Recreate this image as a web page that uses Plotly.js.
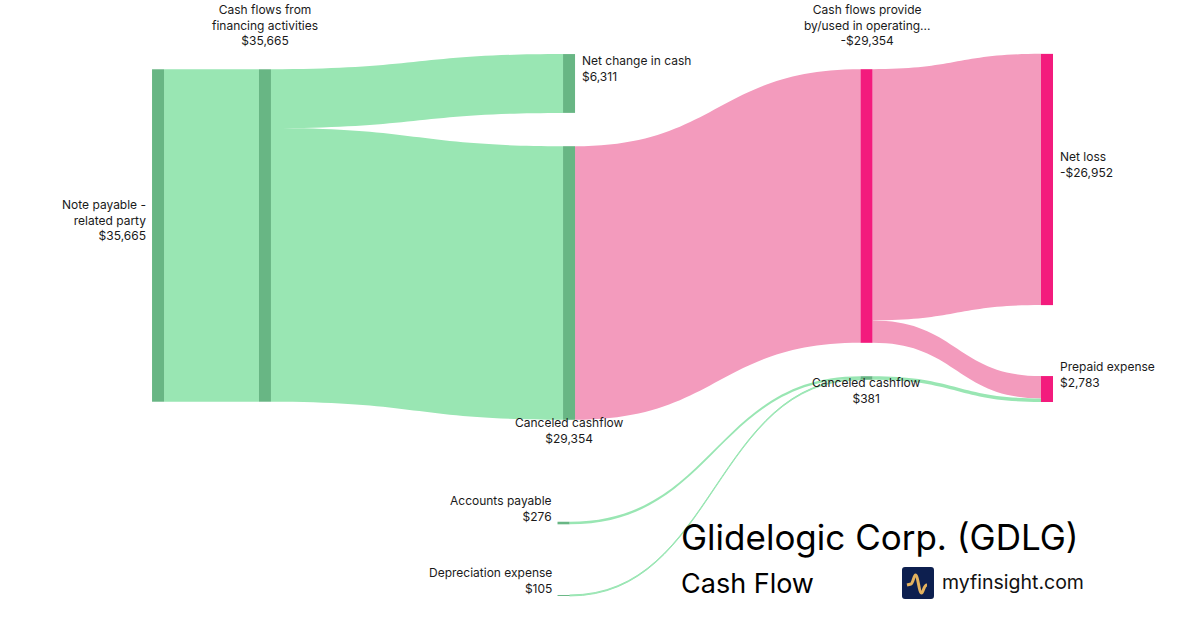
<!DOCTYPE html>
<html>
<head>
<meta charset="utf-8">
<script src="https://cdn.plot.ly/plotly-3.0.1.min.js"></script>
<style>html,body{margin:0;padding:0;background:#fff;}#chart{width:1200px;height:630px;}</style>
</head>
<body>
<div id="chart"></div>
<script>
// ---- data ----
const nodeNames = [
  "Note payable -<br>related party",
  "Cash flows from<br>financing activities",
  "Net change in cash",
  "Canceled cashflow",
  "Accounts payable",
  "Depreciation expense",
  "Cash flows provide<br>by/used in operating...",
  "Canceled cashflow",
  "Net loss",
  "Prepaid expense"
];
const nodeAmounts = [35665, 35665, 6311, 29354, 276, 105, -29354, 381, -26952, 2783];
const linkSource = [0, 1, 1, 3, 6, 6, 4, 5, 7];
const linkTarget = [1, 2, 3, 6, 8, 9, 7, 7, 9];
const linkValues = [35665, 6311, 29354, 29354, 26952, 2402, 276, 105, 381];

// ---- layout / style ----
const W = 1200, H = 630;
const nodeX = [0.1317, 0.2208, 0.4742, 0.4742, 0.4696, 0.4696, 0.7221, 0.7221, 0.8725, 0.8725];
const nodeY = [0.3738, 0.3738, 0.1325, 0.4492, 0.8302, 0.9452, 0.3270, 0.6000, 0.2849, 0.6175];
const labelSide = ["left", "top", "right", "bottom", "left", "left", "top", "bottom", "right", "right"];
const GREEN_NODE = "#68b684", PINK_NODE = "#f31b7d";
const GREEN_LINK = "#99e6b3", PINK_LINK = "#f39bbd";
const nodeColors = [GREEN_NODE, GREEN_NODE, GREEN_NODE, GREEN_NODE, GREEN_NODE, GREEN_NODE, PINK_NODE, GREEN_NODE, PINK_NODE, PINK_NODE];
const linkColors = linkSource.map((s, i) => (s === 3 || s === 6) ? PINK_LINK : GREEN_LINK);
const PAD = 147, THICK = 12;
const FONT = "Inter, 'Noto Sans', sans-serif";

function fmt(v) {
  const s = "$" + Math.abs(v).toLocaleString("en-US");
  return v < 0 ? "-" + s : s;
}

// node value for height = max(in, out)
const nodeFlow = nodeNames.map((_, i) => {
  let inn = 0, out = 0;
  linkSource.forEach((s, k) => { if (s === i) out += linkValues[k]; if (linkTarget[k] === i) inn += linkValues[k]; });
  return Math.max(inn, out);
});
// scale: column of 3 nodes sharing the full total
const totalLeft = nodeFlow[0] + nodeFlow[4] + nodeFlow[5];
const ky = (H - 2 * PAD) / totalLeft;

const px2x = x => x / W;
const px2y = y => 1 - y / H;

const annotations = nodeNames.map((name, i) => {
  const cx = nodeX[i] * W, cy = nodeY[i] * H, h = nodeFlow[i] * ky;
  const text = name + "<br>" + fmt(nodeAmounts[i]);
  const base = { text, showarrow: false, xref: "paper", yref: "paper", font: { family: FONT, size: 12, color: "#1a1a1a" } };
  const side = labelSide[i];
  if (side === "left") return Object.assign(base, { x: px2x(cx - THICK / 2 - 4), y: px2y(cy - 15), xanchor: "right", yanchor: "middle", align: "right" });
  if (side === "right") return Object.assign(base, { x: px2x(cx + THICK / 2 + 5), y: px2y(cy - 14.5), xanchor: "left", yanchor: "middle", align: "left" });
  if (side === "top") return Object.assign(base, { x: px2x(cx), y: px2y(cy - h / 2 - 19), xanchor: "center", yanchor: "bottom", align: "center" });
  return Object.assign(base, { x: px2x(cx), y: px2y(cy + h / 2 - 7), xanchor: "center", yanchor: "top", align: "center" });
});

annotations.push(
  { text: "Glidelogic Corp. (GDLG)", showarrow: false, xref: "paper", yref: "paper", x: px2x(679), y: px2y(537), xanchor: "left", yanchor: "middle", font: { family: FONT, size: 35, color: "#000" } },
  { text: "Cash Flow", showarrow: false, xref: "paper", yref: "paper", x: px2x(679), y: px2y(583), xanchor: "left", yanchor: "middle", font: { family: FONT, size: 27, color: "#000" } },
  { text: "myfinsight.com", showarrow: false, xref: "paper", yref: "paper", x: px2x(940), y: px2y(582), xanchor: "left", yanchor: "middle", font: { family: FONT, size: 19.5, color: "#111" } }
);

function P(x, y) { return px2x(x).toFixed(5) + "," + px2y(y).toFixed(5); }
const r = 3, x0 = 902, x1 = 934, y0 = 567, y1 = 599;
const boxPath = "M" + P(x0 + r, y0) + " L" + P(x1 - r, y0) + " Q" + P(x1, y0) + " " + P(x1, y0 + r) +
  " L" + P(x1, y1 - r) + " Q" + P(x1, y1) + " " + P(x1 - r, y1) + " L" + P(x0 + r, y1) +
  " Q" + P(x0, y1) + " " + P(x0, y1 - r) + " L" + P(x0, y0 + r) + " Q" + P(x0, y0) + " " + P(x0 + r, y0) + " Z";
const pulsePath = "M" + P(907, 585) + " L" + P(911, 584) + " C" + P(913, 583) + " " + P(914, 575) + " " + P(915.5, 575) +
  " C" + P(918, 575) + " " + P(919, 593) + " " + P(921.5, 593) + " C" + P(923.5, 593) + " " + P(923.5, 585) + " " + P(927, 585);

const shapes = [
  { type: "path", xref: "paper", yref: "paper", path: boxPath, fillcolor: "#0d1f4f", line: { width: 0 } },
  { type: "path", xref: "paper", yref: "paper", path: pulsePath, line: { color: "#e4b25e", width: 3 } }
];

const trace = {
  type: "sankey",
  arrangement: "fixed",
  domain: { x: [0, 1], y: [0, 1] },
  node: {
    label: nodeNames.map(n => n.replace(/<br>/g, " ")),
    x: nodeX, y: nodeY,
    pad: PAD, thickness: THICK,
    color: nodeColors,
    line: { width: 0 },
    hoverinfo: "none"
  },
  link: { source: linkSource, target: linkTarget, value: linkValues, color: linkColors, hoverinfo: "none" },
  textfont: { size: 1, color: "rgba(0,0,0,0)" }
};

Plotly.newPlot("chart", [trace], {
  width: W, height: H,
  margin: { l: 0, r: 0, t: 0, b: 0 },
  paper_bgcolor: "#ffffff",
  font: { family: FONT },
  annotations, shapes
}, { staticPlot: true, displayModeBar: false });
</script>
</body>
</html>
